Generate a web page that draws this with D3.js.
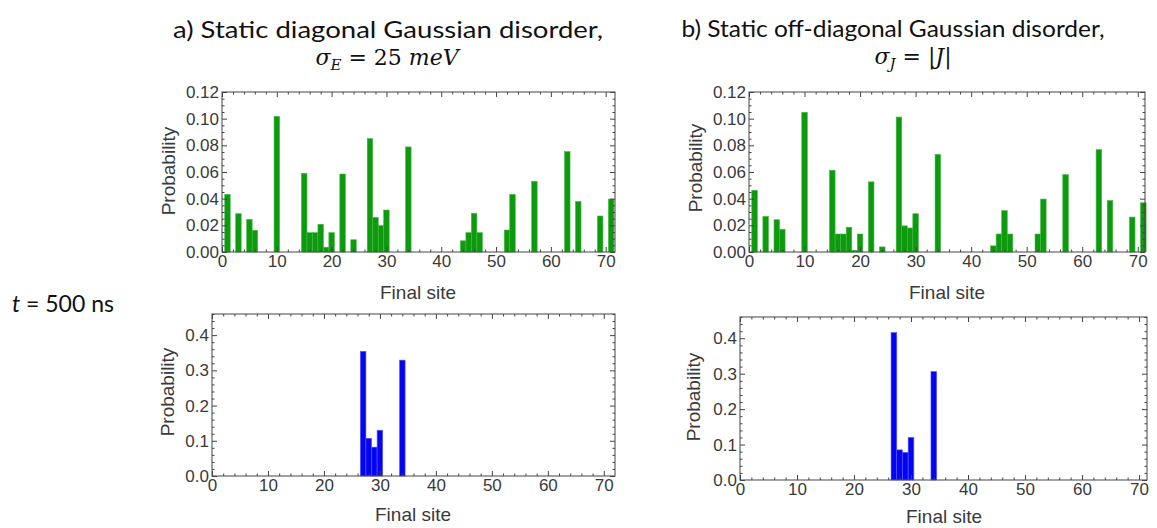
<!DOCTYPE html>
<html>
<head>
<meta charset="utf-8">
<script src="https://cdn.jsdelivr.net/npm/d3@7"></script>
<style>
  body { margin: 0; background: #fff; }
  svg { display: block; }
  .tick text { font-family: "Liberation Sans", Arial, sans-serif; font-size: 17px; fill: #3a3a3a; }
  .lab { font-family: "Liberation Sans", Arial, sans-serif; font-size: 19px; fill: #3a3a3a; }
  .title { font-family: Lato, "Open Sans", sans-serif; font-size: 23px; fill: #111; }
  .math { font-family: "DejaVu Serif", serif; font-size: 22px; fill: #111; }
</style>
</head>
<body>
<svg id="chart" width="1157" height="528"></svg>
<script>
// sites that hold any probability (same set in both upper panels)
const upperSites = [1, 3, 5, 6, 10, 15, 16, 17, 18, 19, 20, 22, 24, 27, 28, 29, 30, 34, 44, 45, 46, 47, 52, 53, 57, 63, 65, 69, 71];
const diagUpper = [0.0432, 0.0287, 0.0244, 0.0163, 0.1017, 0.059, 0.0145, 0.0145, 0.0208, 0.0036, 0.0145, 0.0585, 0.0092,
                   0.085, 0.026, 0.0198, 0.0315, 0.0788, 0.0084, 0.0145, 0.029, 0.0145, 0.0165, 0.0432, 0.053, 0.0753, 0.0379, 0.027, 0.0397];
const offDiagUpper = [0.0463, 0.0267, 0.0242, 0.017, 0.1048, 0.0613, 0.0135, 0.0135, 0.0186, 0.0013, 0.0135, 0.0526, 0.0038,
                      0.1012, 0.0196, 0.018, 0.0287, 0.0732, 0.0046, 0.0135, 0.031, 0.0135, 0.0135, 0.0397, 0.058, 0.0768, 0.0386, 0.0262, 0.0369];

const lowerSites = [27, 28, 29, 30, 34];
const diagLower = [0.354, 0.107, 0.082, 0.130, 0.329];
const offDiagLower = [0.416, 0.085, 0.078, 0.120, 0.306];

const xTicks = [0, 10, 20, 30, 40, 50, 60, 70];
const upperYTicks = [0, 0.02, 0.04, 0.06, 0.08, 0.10, 0.12];
const lowerYTicks = [0, 0.1, 0.2, 0.3, 0.4];

const green = { fill: '#0e9a0e', edge: '#44b844' };
const blue = { fill: '#0404f2', edge: '#5a5aff' };

const panels = [
  { sites: upperSites, values: diagUpper, col: green, left: 222, right: 615, top: 92, bottom: 252,
    xMax: 71.7, yMax: 0.12, yTicks: upperYTicks, yMinor: 0.005, fmt: '.2f', ylab: [168, 171], xlab: [418, 299] },
  { sites: upperSites, values: offDiagUpper, col: green, left: 749, right: 1145, top: 92, bottom: 252,
    xMax: 71.3, yMax: 0.12, yTicks: upperYTicks, yMinor: 0.005, fmt: '.2f', ylab: [695, 168], xlab: [947, 299] },
  { sites: lowerSites, values: diagLower, col: blue, left: 212, right: 615, top: 314, bottom: 476,
    xMax: 72, yMax: 0.46, yTicks: lowerYTicks, yMinor: 0.02, fmt: '.1f', ylab: [167, 392], xlab: [413, 521] },
  { sites: lowerSites, values: offDiagLower, col: blue, left: 740, right: 1147, top: 317, bottom: 480,
    xMax: 71.4, yMax: 0.46, yTicks: lowerYTicks, yMinor: 0.02, fmt: '.1f', ylab: [693, 397], xlab: [944, 523] }
];

const svg = d3.select('#chart');
svg.append('rect').attr('width', 1157).attr('height', 528).attr('fill', '#fff');

function drawPanel(p) {
  const x = d3.scaleLinear().domain([0, p.xMax]).range([p.left, p.right]);
  const y = d3.scaleLinear().domain([0, p.yMax]).range([p.bottom, p.top]);
  const g = svg.append('g').style('color', '#444');

  const data = p.sites.map((s, i) => ({ site: s, value: p.values[i] }));
  g.selectAll('rect.bar')
    .data(data)
    .enter().append('rect')
    .attr('class', 'bar')
    .attr('x', d => x(d.site - 0.5))
    .attr('width', d => x(d.site + 0.5) - x(d.site - 0.5))
    .attr('y', d => y(d.value))
    .attr('height', d => y(0) - y(d.value))
    .attr('fill', p.col.fill)
    .attr('stroke', p.col.edge)
    .attr('stroke-width', 0.6);

  const xMinor = d3.range(0, p.xMax, 2).filter(v => v % 10 !== 0);
  const majorStep = p.yTicks[1];
  const yMinor = d3.range(0, Math.floor(p.yMax / p.yMinor + 1e-6) + 1)
    .map(i => i * p.yMinor)
    .filter(v => Math.abs(v / majorStep - Math.round(v / majorStep)) > 1e-6);

  // frame ticks point inward on all four sides, labels only left and bottom
  const addAxis = (axisFn, scale, ticks, size, fmt, tr) => {
    g.append('g')
      .attr('transform', tr)
      .call(axisFn(scale).tickValues(ticks).tickSize(size).tickPadding(3).tickFormat(fmt))
      .call(s => s.select('.domain').remove());
  };
  addAxis(d3.axisBottom, x, xTicks, -5, d3.format('d'), `translate(0,${p.bottom})`);
  addAxis(d3.axisBottom, x, xMinor, -2.5, '', `translate(0,${p.bottom})`);
  addAxis(d3.axisTop, x, xTicks, -5, '', `translate(0,${p.top})`);
  addAxis(d3.axisTop, x, xMinor, -2.5, '', `translate(0,${p.top})`);
  addAxis(d3.axisLeft, y, p.yTicks, -5, d3.format(p.fmt), `translate(${p.left},0)`);
  addAxis(d3.axisLeft, y, yMinor, -2.5, '', `translate(${p.left},0)`);
  addAxis(d3.axisRight, y, p.yTicks, -5, '', `translate(${p.right},0)`);
  addAxis(d3.axisRight, y, yMinor, -2.5, '', `translate(${p.right},0)`);

  g.append('rect')
    .attr('x', p.left).attr('y', p.top)
    .attr('width', p.right - p.left).attr('height', p.bottom - p.top)
    .attr('fill', 'none').attr('stroke', '#444').attr('stroke-width', 1);

  g.append('text')
    .attr('class', 'lab')
    .attr('transform', `translate(${p.ylab[0]},${p.ylab[1]}) rotate(-90)`)
    .attr('text-anchor', 'middle')
    .attr('dominant-baseline', 'central')
    .text('Probability');

  g.append('text')
    .attr('class', 'lab')
    .attr('x', p.xlab[0]).attr('y', p.xlab[1])
    .attr('text-anchor', 'middle')
    .text('Final site');
}

panels.forEach(drawPanel);

// column titles
svg.append('text').attr('class', 'title')
  .attr('x', 388).attr('y', 38).attr('text-anchor', 'middle')
  .attr('textLength', 430).attr('lengthAdjust', 'spacingAndGlyphs')
  .text('a) Static diagonal Gaussian disorder,');
svg.append('text').attr('class', 'title')
  .attr('x', 893).attr('y', 37).attr('text-anchor', 'middle')
  .attr('textLength', 423).attr('lengthAdjust', 'spacingAndGlyphs')
  .text('b) Static off-diagonal Gaussian disorder,');

const mathA = svg.append('text').attr('class', 'math').attr('x', 387).attr('y', 65).attr('text-anchor', 'middle');
mathA.append('tspan').attr('font-style', 'italic').text('σ');
mathA.append('tspan').attr('font-style', 'italic').attr('font-size', '15px').attr('dy', 5).text('E');
mathA.append('tspan').attr('dy', -5).text(' = 25 ');
mathA.append('tspan').attr('font-style', 'italic').text('meV');

const mathB = svg.append('text').attr('class', 'math').attr('x', 913).attr('y', 64).attr('text-anchor', 'middle');
mathB.append('tspan').attr('font-style', 'italic').text('σ');
mathB.append('tspan').attr('font-style', 'italic').attr('font-size', '15px').attr('dy', 5).text('J');
mathB.append('tspan').attr('dy', -5).text(' = |');
mathB.append('tspan').attr('font-style', 'italic').text('J');
mathB.append('tspan').text('|');

// row label
const rowLab = svg.append('text').attr('class', 'title').attr('x', 12).attr('y', 312);
rowLab.append('tspan').attr('font-style', 'italic').text('t');
rowLab.append('tspan').text(' = 500 ns');
</script>
</body>
</html>
